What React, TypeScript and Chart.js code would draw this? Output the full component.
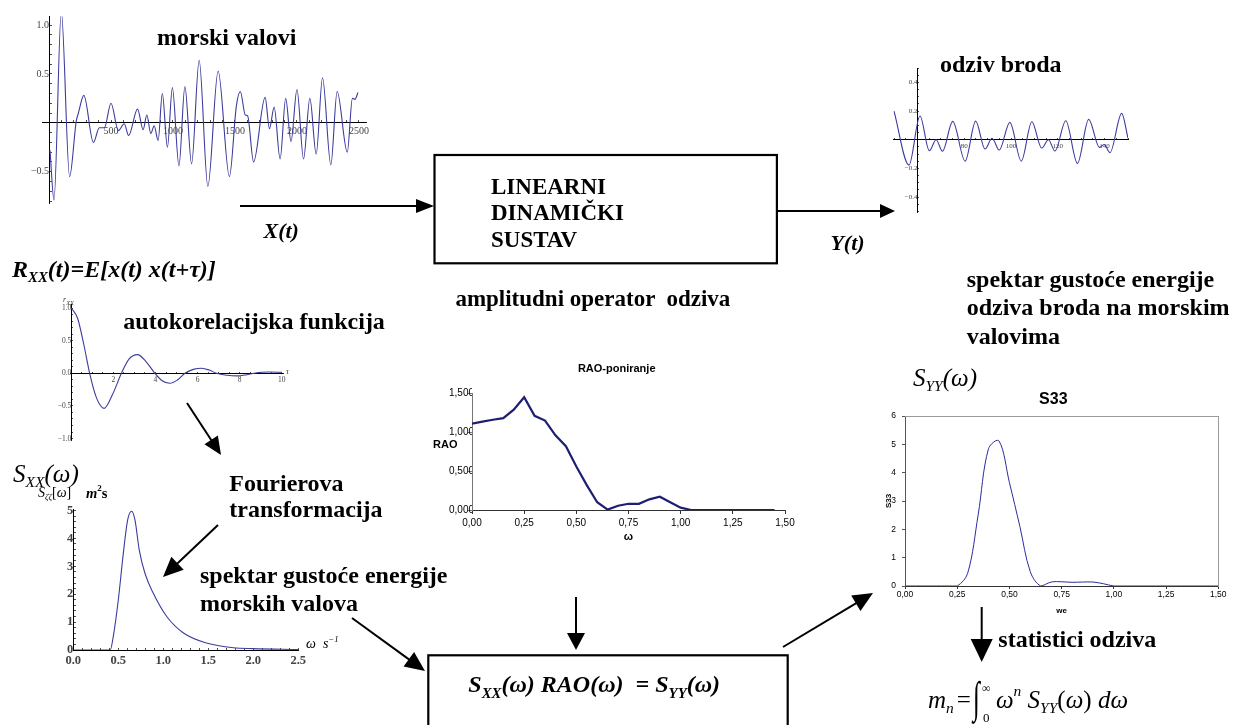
import React, { useEffect, useRef } from 'react';
import { Chart, registerables } from 'chart.js';

Chart.register(...registerables);

const SERIF = '"Liberation Serif", "Times New Roman", serif';
const SANS = '"Liberation Sans", Arial, sans-serif';
const MATH_BLUE = '#3b3b9e';

/* ---------------- data ---------------- */
// morski valovi (wave record)
const WAVE_T = [8, 40, 99, 166, 220, 235, 281, 358, 406, 447, 500, 559, 607, 642, 714, 759, 789, 821, 848, 880, 914, 955, 995, 1048, 1096, 1150, 1211, 1281, 1364, 1455, 1511, 1543, 1583, 1602, 1650, 1743, 1778, 1816, 1864, 1909, 1952, 2000, 2053, 2104, 2155, 2206, 2273, 2324, 2406, 2447, 2468, 2492];
const WAVE_V = [-0.28, -0.79, 1.14, -0.55, 0.02, 0.09, 0.28, -0.2, -0.05, -0.05, 0.2, -0.08, -0.01, -0.13, 0.14, -0.07, 0.08, -0.11, -0.03, -0.18, 0.3, -0.25, 0.36, -0.44, 0.37, -0.42, 0.64, -0.65, 0.53, -0.55, 0.17, 0.32, 0.08, 0.07, -0.4, 0.26, -0.06, 0.16, -0.37, 0.25, -0.19, 0.34, -0.37, 0.25, -0.32, 0.46, -0.43, 0.32, -0.3, 0.25, 0.24, 0.31];
const WAVE_X_TICKS = [500, 1000, 1500, 2000, 2500];
const WAVE_X_LABELS = ['500', '1000', '1500', '2000', '2500'];
const WAVE_Y_TICKS = [-0.5, 0.5, 1.0];
const WAVE_Y_LABELS = ['\u22120.5', '0.5', '1.0'];

// odziv broda (ship response)
const RESP_T = [50, 56.4, 61.1, 65.1, 68, 70.7, 75.1, 80.4, 84.9, 88.9, 91.9, 95, 99.5, 104.4, 108.9, 113.1, 116, 118.8, 123.4, 128.4, 133.2, 137.8, 139.8, 142.3, 147.3, 150];
const RESP_V = [0.2, -0.177, 0.165, -0.077, 0.0, -0.08, 0.128, -0.149, 0.13, -0.065, 0.01, -0.072, 0.121, -0.149, 0.125, -0.058, 0.0, -0.079, 0.132, -0.165, 0.142, -0.053, -0.033, -0.09, 0.184, 0.01];
const RESP_X_TICKS = [80, 100, 120, 140];
const RESP_X_LABELS = ['80', '100', '120', '140'];
const RESP_Y_TICKS = [-0.4, -0.2, 0.2, 0.4];
const RESP_Y_LABELS = ['\u22120.4', '\u22120.2', '0.2', '0.4'];

// autokorelacijska funkcija
const ACF_TAU = [0, 0.3, 0.6, 0.87, 1.2, 1.56, 1.95, 2.38, 2.75, 3.14, 3.55, 3.97, 4.3, 4.68, 5.05, 5.4, 5.8, 6.19, 6.55, 6.9, 7.4, 7.86, 8.3, 8.7, 9.05, 9.44, 10];
const ACF_R = [1.0, 0.84, 0.43, 0.0, -0.38, -0.537, -0.33, 0.0, 0.22, 0.286, 0.18, 0.0, -0.11, -0.153, -0.1, 0.0, 0.06, 0.077, 0.05, 0.0, -0.03, -0.04, -0.025, 0.0, 0.015, 0.02, 0.015];
const ACF_X_TICKS = [2, 4, 6, 8, 10];
const ACF_X_LABELS = ['2', '4', '6', '8', '10'];
const ACF_Y_TICKS = [-1, -0.5, 0, 0.5, 1];
const ACF_Y_LABELS = ['\u22121.0', '\u22120.5', '0.0', '0.5', '1.0'];

// S_XX(omega) wave spectrum
const SXX_W = [0, 0.41, 0.444, 0.5, 0.556, 0.604, 0.648, 0.685, 0.733, 0.796, 0.889, 1.04, 1.22, 1.48, 1.78, 2.0, 2.5];
const SXX_S = [0, 0, 0.48, 1.79, 3.47, 4.66, 4.97, 4.66, 3.58, 2.75, 2.03, 1.19, 0.62, 0.25, 0.08, 0.05, 0.02];
const SXX_X_TICKS = [0, 0.5, 1, 1.5, 2, 2.5];
const SXX_X_LABELS = ['0.0', '0.5', '1.0', '1.5', '2.0', '2.5'];
const SXX_Y_TICKS = [0, 1, 2, 3, 4, 5];
const SXX_Y_LABELS = ['0', '1', '2', '3', '4', '5'];

// RAO-poniranje
const RAO_W = [0, 0.05, 0.1, 0.15, 0.2, 0.25, 0.3, 0.35, 0.4, 0.45, 0.5, 0.55, 0.6, 0.65, 0.7, 0.75, 0.8, 0.85, 0.9, 0.95, 1.0, 1.05, 1.1, 1.15, 1.2, 1.25, 1.3, 1.35, 1.4, 1.45];
const RAO_V = [1.11, 1.135, 1.16, 1.18, 1.29, 1.45, 1.21, 1.15, 0.96, 0.82, 0.56, 0.32, 0.1, 0.005, 0.055, 0.08, 0.08, 0.137, 0.17, 0.1, 0.03, 0, 0, 0, 0, 0, 0, 0, 0, 0];
const RAO_X_TICKS = [0, 0.25, 0.5, 0.75, 1, 1.25, 1.5];
const RAO_X_LABELS = ['0,00', '0,25', '0,50', '0,75', '1,00', '1,25', '1,50'];
const RAO_Y_TICKS = [0, 0.5, 1, 1.5];
const RAO_Y_LABELS = ['0,000', '0,500', '1,000', '1,500'];

// S33 response spectrum
const S33_W = [0, 0.05, 0.1, 0.15, 0.2, 0.25, 0.3, 0.35, 0.4, 0.45, 0.5, 0.55, 0.6, 0.65, 0.7, 0.75, 0.8, 0.85, 0.9, 0.95, 1.0, 1.05, 1.1, 1.15, 1.2, 1.25, 1.3, 1.35, 1.4, 1.45, 1.5];
const S33_V = [0, 0, 0, 0, 0, 0, 0.45, 2.5, 4.85, 5.12, 3.65, 2.1, 0.5, 0.0, 0.14, 0.15, 0.13, 0.14, 0.14, 0.08, 0.0, 0, 0, 0, 0, 0, 0, 0, 0, 0, 0];
const S33_X_TICKS = [0, 0.25, 0.5, 0.75, 1, 1.25, 1.5];
const S33_X_LABELS = ['0,00', '0,25', '0,50', '0,75', '1,00', '1,25', '1,50'];
const S33_Y_TICKS = [0, 1, 2, 3, 4, 5, 6];
const S33_Y_LABELS = ['0', '1', '2', '3', '4', '5', '6'];

/* ---------------- helpers ---------------- */
const lbl = (ticks: number[], labels: string[], v: number) => {
  const i = ticks.findIndex((t) => Math.abs(t - v) < 1e-9);
  return i >= 0 ? labels[i] : '';
};
const range = (a: number, b: number, s: number) => {
  const out: number[] = [];
  for (let k = 0; a + k * s <= b + 1e-9; k++) out.push(+(a + k * s).toFixed(6));
  return out;
};
const pts = (xs: number[], ys: number[]) => xs.map((x, i) => ({ x, y: ys[i] }));

interface Ax { min: number; max: number; ticks: number[]; labels: string[]; minor: number[]; at: number; }

function mathConfig(xs: number[], ys: number[], x: Ax, y: Ax, pad: any, font: any, tickLen: number, xPad: number, yPad: number) {
  const mk = (a: Ax, id: 'x' | 'y') => ({
    type: 'linear',
    min: a.min,
    max: a.max,
    position: id === 'x' ? { y: a.at } : { x: a.at },
    afterBuildTicks: (axis: any) => {
      const all = Array.from(new Set([...a.minor, ...a.ticks])).sort((p, q) => p - q);
      axis.ticks = all.map((value) => ({ value }));
    },
    ticks: {
      autoSkip: false, maxRotation: 0, minRotation: 0,
      padding: id === 'x' ? xPad : yPad,
      font, color: '#444',
      callback: (v: any) => lbl(a.ticks, a.labels, Number(v)),
    },
    grid: { display: true, drawOnChartArea: false, drawTicks: true, tickLength: tickLen, color: '#222', lineWidth: 0.8 },
    border: { display: true, color: '#000', width: 1 },
  });
  return {
    type: 'line',
    data: {
      datasets: [{
        data: pts(xs, ys), borderColor: MATH_BLUE, borderWidth: 1.1, pointRadius: 0,
        cubicInterpolationMode: 'monotone', fill: false,
      }],
    },
    options: {
      responsive: false, animation: false, devicePixelRatio: 1, events: [],
      layout: { padding: pad },
      plugins: { legend: { display: false }, tooltip: { enabled: false }, title: { display: false } },
      scales: { x: mk(x, 'x'), y: mk(y, 'y') },
    },
  };
}

function excelConfig(p: {
  xs: number[]; ys: number[]; color: string; width: number; tension: number;
  xTicks: number[]; xLabels: string[]; yTicks: number[]; yLabels: string[];
  xMax: number; yMax: number; pad: any; title: string; titleSize: number; titlePad: any;
  wy: number; hx: number; tickFont: number; xTitle: string; xTitleSize: number;
  yTitle?: string; yTitleSize?: number; yTitlePad?: any; yLabelPad: number; xLabelPad: number; tickLen: number;
  yAxisColor: string; frame: boolean;
}) {
  const scales: any = {
    x: {
      type: 'linear', position: 'bottom', min: 0, max: p.xMax,
      afterFit: (s: any) => { s.height = p.hx; },
      afterBuildTicks: (axis: any) => { axis.ticks = p.xTicks.map((value) => ({ value })); },
      ticks: {
        autoSkip: false, maxRotation: 0, minRotation: 0, padding: p.xLabelPad,
        font: { family: SANS, size: p.tickFont }, color: '#000',
        callback: (v: any) => lbl(p.xTicks, p.xLabels, Number(v)),
      },
      grid: { display: true, drawOnChartArea: false, tickLength: p.tickLen, color: '#333' },
      border: { display: true, color: '#333', width: 1 },
      title: { display: true, text: p.xTitle, font: { family: SANS, size: p.xTitleSize, weight: 'bold' }, color: '#000', padding: 0 },
    },
    y: {
      type: 'linear', position: 'left', min: 0, max: p.yMax,
      afterFit: (s: any) => { s.width = p.wy; },
      afterBuildTicks: (axis: any) => { axis.ticks = p.yTicks.map((value) => ({ value })); },
      ticks: {
        autoSkip: false, padding: p.yLabelPad,
        font: { family: SANS, size: p.tickFont }, color: '#000',
        callback: (v: any) => lbl(p.yTicks, p.yLabels, Number(v)),
      },
      grid: { display: true, drawOnChartArea: false, tickLength: p.tickLen, color: p.yAxisColor },
      border: { display: true, color: p.yAxisColor, width: 1 },
      title: p.yTitle
        ? { display: true, text: p.yTitle, font: { family: SANS, size: p.yTitleSize, weight: 'bold' }, color: '#000', padding: p.yTitlePad }
        : { display: false },
    },
  };
  if (p.frame) {
    scales.xTop = {
      type: 'linear', position: 'top', min: 0, max: 1, display: true,
      ticks: { display: false }, grid: { display: false, drawTicks: false },
      border: { display: true, color: '#9a9a9a', width: 1 },
      afterFit: (s: any) => { s.height = 0; },
    };
    scales.yRight = {
      type: 'linear', position: 'right', min: 0, max: 1, display: true,
      ticks: { display: false }, grid: { display: false, drawTicks: false },
      border: { display: true, color: '#9a9a9a', width: 1 },
      afterFit: (s: any) => { s.width = 0; },
    };
  }
  return {
    type: 'line',
    data: {
      datasets: [{
        data: pts(p.xs, p.ys), borderColor: p.color, borderWidth: p.width, pointRadius: 0,
        tension: p.tension, fill: false,
      }],
    },
    options: {
      responsive: false, animation: false, devicePixelRatio: 1, events: [],
      layout: { padding: p.pad },
      plugins: {
        legend: { display: false }, tooltip: { enabled: false },
        title: { display: true, text: p.title, font: { family: SANS, size: p.titleSize, weight: 'bold' }, color: '#000', padding: p.titlePad },
      },
      scales,
    },
  };
}

function ChartCanvas({ left, top, width, height, make }: { left: number; top: number; width: number; height: number; make: () => any }) {
  const ref = useRef<HTMLCanvasElement>(null);
  useEffect(() => {
    if (!ref.current) return;
    const c = new Chart(ref.current, make());
    return () => c.destroy();
  }, []);
  return <canvas ref={ref} width={width} height={height} style={{ position: 'absolute', left, top, width, height }} />;
}

function T({ x, b, size, bold, italic, family = SERIF, color = '#000', children }: any) {
  const k = family === SANS ? 0.8465 : 0.8375;
  return (
    <div style={{
      position: 'absolute', left: x, top: b - k * size, fontSize: size, lineHeight: `${size}px`,
      fontWeight: bold ? 700 : 400, fontStyle: italic ? 'italic' : 'normal', fontFamily: family,
      color, whiteSpace: 'pre',
    }}>{children}</div>
  );
}
const Sub = ({ children, s = 0.62 }: any) => (
  <span style={{ fontSize: `${s}em`, position: 'relative', top: '0.35em' }}>{children}</span>
);
const Sup = ({ children, s = 0.62 }: any) => (
  <span style={{ fontSize: `${s}em`, position: 'relative', top: '-0.75em' }}>{children}</span>
);

function Arrow({ x1, y1, x2, y2, head = 18, half = 8, w = 2 }: any) {
  const dx = x2 - x1, dy = y2 - y1, L = Math.hypot(dx, dy);
  const ux = dx / L, uy = dy / L;
  const bx = x2 - ux * head, by = y2 - uy * head;
  const px = -uy, py = ux;
  return (
    <g>
      <line x1={x1} y1={y1} x2={bx + ux} y2={by + uy} stroke="#000" strokeWidth={w} />
      <polygon points={`${x2},${y2} ${bx + px * half},${by + py * half} ${bx - px * half},${by - py * half}`} fill="#000" />
    </g>
  );
}

/* ---------------- chart factories ---------------- */
const waveChart = () => mathConfig(
  WAVE_T, WAVE_V,
  { min: -55, max: 2560, ticks: WAVE_X_TICKS, labels: WAVE_X_LABELS, minor: range(100, 2500, 100), at: 0 },
  { min: -0.82, max: 1.09, ticks: WAVE_Y_TICKS, labels: WAVE_Y_LABELS, minor: range(-0.8, 1.0, 0.1), at: 0 },
  { left: 42.2, right: 13.6, top: 16.2, bottom: 11.6 },
  { family: SERIF, size: 10 }, -3, 6, 6,
);
const respChart = () => mathConfig(
  RESP_T, RESP_V,
  { min: 49.7, max: 150, ticks: RESP_X_TICKS, labels: RESP_X_LABELS, minor: range(50, 150, 5), at: 0 },
  { min: -0.51, max: 0.5, ticks: RESP_Y_TICKS, labels: RESP_Y_LABELS, minor: range(-0.5, 0.5, 0.05), at: 60 },
  { left: 23.3, right: 22, top: 18, bottom: 17.1 },
  { family: SERIF, size: 7 }, -2, 4, 4,
);
const acfChart = () => mathConfig(
  ACF_TAU, ACF_R,
  { min: -0.05, max: 10.1, ticks: ACF_X_TICKS, labels: ACF_X_LABELS, minor: range(0.5, 10, 0.5), at: 0 },
  { min: -1.03, max: 1.05, ticks: ACF_Y_TICKS, labels: ACF_Y_LABELS, minor: range(-1, 1, 0.1), at: 0 },
  { left: 70.3, right: 16.2, top: 14.8, bottom: 9.5 },
  { family: SERIF, size: 7.5 }, -2, 4, 4,
);
const sxxChart = () => mathConfig(
  SXX_W, SXX_S,
  { min: 0, max: 2.5, ticks: SXX_X_TICKS, labels: SXX_X_LABELS, minor: range(0, 2.5, 0.1), at: 0 },
  { min: 0, max: 5.02, ticks: SXX_Y_TICKS, labels: SXX_Y_LABELS, minor: range(0, 5, 0.2), at: 0 },
  { left: 73.3, right: 31.7, top: 19.9, bottom: 25 },
  { family: SERIF, size: 12.5, weight: 'bold' }, -3, 6, 6,
);
const raoChart = () => excelConfig({
  xs: RAO_W, ys: RAO_V, color: '#1e1e72', width: 2.2, tension: 0,
  xTicks: RAO_X_TICKS, xLabels: RAO_X_LABELS, yTicks: RAO_Y_TICKS, yLabels: RAO_Y_LABELS,
  xMax: 1.5, yMax: 1.5,
  pad: { left: 28.4, right: 25, top: 2, bottom: 6 },
  title: 'RAO-poniranje', titleSize: 11, titlePad: { top: 5.4, bottom: 17.7 },
  wy: 23.6, hx: 34, tickFont: 10, xTitle: '\u03c9', xTitleSize: 11,
  yLabelPad: -6, xLabelPad: 3, tickLen: 4, yAxisColor: '#777', frame: false,
});
const s33Chart = () => excelConfig({
  xs: S33_W, ys: S33_V, color: '#2c2c9c', width: 1, tension: 0.35,
  xTicks: S33_X_TICKS, xLabels: S33_X_LABELS, yTicks: S33_Y_TICKS, yLabels: S33_Y_LABELS,
  xMax: 1.5, yMax: 6,
  pad: { left: 18.3, right: 14.7, top: 0, bottom: 1.5 },
  title: 'S33', titleSize: 16, titlePad: { top: 5.4, bottom: 6.4 },
  wy: 16.7, hx: 29.5, tickFont: 8.5, xTitle: 'we', xTitleSize: 8,
  yTitle: 'S33', yTitleSize: 8, yTitlePad: { top: -4, bottom: 0 },
  yLabelPad: 6, xLabelPad: 1, tickLen: 3, yAxisColor: '#555', frame: true,
});

const up = { fontStyle: 'normal' as const };

/* ---------------- app ---------------- */
export default function App() {
  return (
    <div style={{ position: 'fixed', left: 0, top: 0, width: 1233, height: 725, background: '#fff', overflow: 'hidden', fontFamily: SERIF, color: '#000' }}>
      <ChartCanvas left={0} top={0} width={380} height={215} make={waveChart} />
      <ChartCanvas left={870} top={50} width={280} height={180} make={respChart} />
      <ChartCanvas left={0} top={290} width={300} height={160} make={acfChart} />
      <ChartCanvas left={0} top={490} width={330} height={185} make={sxxChart} />
      <ChartCanvas left={420} top={355} width={390} height={195} make={raoChart} />
      <ChartCanvas left={870} top={385} width={363} height={232} make={s33Chart} />

      <svg width={1233} height={725} style={{ position: 'absolute', left: 0, top: 0, pointerEvents: 'none' }}>
        <rect x={434.5} y={155} width={342.4} height={108.3} fill="none" stroke="#000" strokeWidth={2.2} />
        <rect x={428.3} y={655.3} width={359.4} height={100} fill="none" stroke="#000" strokeWidth={2.2} />
        <Arrow x1={240} y1={206} x2={434} y2={206} head={18} half={7} />
        <Arrow x1={777} y1={211} x2={895} y2={211} head={15} half={7} />
        <Arrow x1={187} y1={403} x2={221} y2={455} head={18} half={8} />
        <Arrow x1={218} y1={525} x2={163} y2={577} head={20} half={9} />
        <Arrow x1={352} y1={618} x2={425} y2={671} head={20} half={9} />
        <Arrow x1={576} y1={597} x2={576} y2={650} head={17} half={9} />
        <Arrow x1={783} y1={647} x2={873} y2={593} head={20} half={9} />
        <Arrow x1={981.7} y1={607} x2={981.7} y2={662} head={23} half={11} />
      </svg>

      <T x={157} b={45} size={24} bold>morski valovi</T>
      <T x={940} b={71.7} size={24} bold>odziv broda</T>

      <T x={491} b={194} size={23} bold>LINEARNI</T>
      <T x={491} b={220} size={23} bold>DINAMIČKI</T>
      <T x={491} b={247} size={23} bold>SUSTAV</T>

      <T x={263.5} b={238} size={22} bold italic>X(t)</T>
      <T x={830.4} b={250} size={22} bold italic>Y(t)</T>

      <T x={455.4} b={306.7} size={23} bold>amplitudni operator  odziva</T>

      <T x={12} b={277} size={24} bold italic>R<Sub>XX</Sub>(t)=E[x(t) x(t+τ)]</T>
      <T x={123.3} b={329.3} size={24} bold>autokorelacijska funkcija</T>
      <T x={63} b={303} size={8} italic color="#444">r<Sub s={0.8}>XX</Sub></T>
      <T x={286} b={375} size={8} italic color="#444">τ</T>

      <T x={13} b={482} size={25} italic>S<Sub>XX</Sub>(ω)</T>
      <T x={38} b={498} size={14} italic>S<Sub>ζζ</Sub><span style={up}>[</span>ω<span style={up}>]</span></T>
      <T x={86} b={498} size={14.5} bold><i>m</i><Sup>2</Sup>s</T>
      <T x={306} b={649} size={14} italic>ω  s<Sup>−1</Sup></T>

      <T x={229.3} b={490.7} size={24} bold>Fourierova</T>
      <T x={229.3} b={517} size={24} bold>transformacija</T>

      <T x={200} b={583} size={24} bold>spektar gustoće energije</T>
      <T x={200} b={611} size={24} bold>morskih valova</T>

      <T x={433} b={448.3} size={11} bold family={SANS}>RAO</T>

      <T x={966.7} b={287} size={24} bold>spektar gustoće energije</T>
      <T x={966.7} b={315.5} size={24} bold>odziva broda na morskim</T>
      <T x={966.7} b={344} size={24} bold>valovima</T>

      <T x={913} b={386} size={25} italic>S<Sub>YY</Sub>(ω)</T>

      <T x={468.3} b={692.5} size={24} bold italic>S<Sub>XX</Sub>(ω) RAO(ω)  = S<Sub>YY</Sub>(ω)</T>

      <T x={998.3} b={646.7} size={24} bold>statistici odziva</T>

      <T x={928} b={708} size={25} italic>
        m<Sub>n</Sub>
        <span style={{ ...up, margin: '0 2px 0 3px' }}>=</span>
        <span style={{ position: 'relative', display: 'inline-block', width: 20 }}>
          <span style={{ display: 'inline-block', transform: 'scaleY(1.75)', transformOrigin: '50% 62%', ...up }}>∫</span>
          <span style={{ position: 'absolute', left: 9, top: -11, fontSize: 12, ...up }}>∞</span>
          <span style={{ position: 'absolute', left: 10, top: 18, fontSize: 13, ...up }}>0</span>
        </span>
        <span style={{ marginLeft: 3 }}>ω</span><Sup>n</Sup> S<Sub>YY</Sub><span style={up}>(</span>ω<span style={up}>)</span> dω
      </T>
    </div>
  );
}
